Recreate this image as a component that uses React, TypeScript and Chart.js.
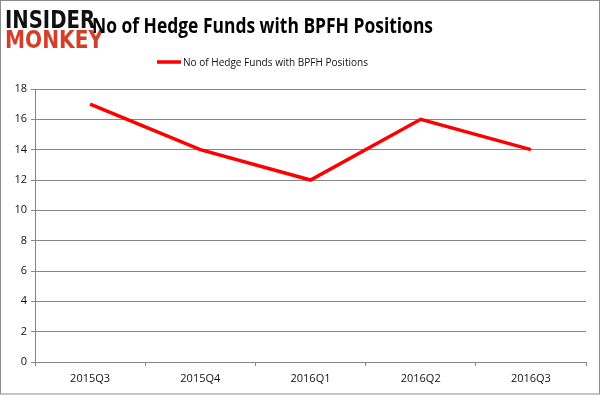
import React, { useEffect, useRef } from "react";
import { Chart, registerables } from "chart.js";

Chart.register(...registerables);

const categories = ["2015Q3", "2015Q4", "2016Q1", "2016Q2", "2016Q3"];
const hedgeFunds = [17, 14, 12, 16, 14];
const seriesName = "No of Hedge Funds with BPFH Positions";
const chartTitle = "No of Hedge Funds with BPFH Positions";
const logoTop = "INSIDER";
const logoBottom = "MONKEY";
const yMin = 0;
const yMax = 18;
const yStep = 2;

function fitText(ctx: CanvasRenderingContext2D, text: string, x: number, y: number, width: number, font: string, color: string) {
  ctx.save();
  ctx.font = font;
  ctx.fillStyle = color;
  ctx.textBaseline = "alphabetic";
  ctx.textAlign = "left";
  const w = ctx.measureText(text).width;
  const s = width / w;
  ctx.translate(x, y);
  ctx.scale(s, 1);
  ctx.fillText(text, 0, 0);
  ctx.restore();
}

const decorPlugin = {
  id: "decor",
  beforeDraw(chart: any) {
    const ctx = chart.ctx as CanvasRenderingContext2D;
    ctx.save();
    ctx.fillStyle = "#ffffff";
    ctx.fillRect(0, 0, chart.width, chart.height);
    ctx.restore();
  },
  afterDraw(chart: any) {
    const ctx = chart.ctx as CanvasRenderingContext2D;
    // border
    ctx.save();
    ctx.strokeStyle = "#8c8c8c";
    ctx.lineWidth = 1;
    ctx.strokeRect(0.5, 0.5, chart.width - 2, chart.height - 1.5);
    ctx.restore();
    // logo
    fitText(ctx, logoTop, 5, 28, 90, "bold 25px 'DejaVu Sans Condensed', 'DejaVu Sans'", "#111111");
    fitText(ctx, logoBottom, 5, 48, 98, "bold 25px 'DejaVu Sans Condensed', 'DejaVu Sans'", "#d2402b");
    // title
    fitText(ctx, chartTitle, 92, 33, 341, "bold 22px 'Open Sans'", "#000000");
    // legend
    ctx.save();
    ctx.strokeStyle = "#ff0000";
    ctx.lineWidth = 3.5;
    ctx.beginPath();
    ctx.moveTo(157, 62);
    ctx.lineTo(181, 62);
    ctx.stroke();
    ctx.restore();
    fitText(ctx, seriesName, 183, 66, 185, "11px 'Open Sans'", "#111111");
  },
};

export default function App() {
  const ref = useRef<HTMLCanvasElement | null>(null);
  useEffect(() => {
    if (!ref.current) return;
    const chart = new Chart(ref.current, {
      type: "line",
      data: {
        labels: categories,
        datasets: [
          {
            label: seriesName,
            data: hedgeFunds,
            borderColor: "#ff0000",
            backgroundColor: "#ff0000",
            borderWidth: 3.5,
            pointRadius: 0,
            tension: 0,
            fill: false,
          },
        ],
      },
      options: {
        responsive: false,
        animation: false,
        layout: { padding: { top: 89, right: 15, left: 0, bottom: 0 } },
        plugins: {
          legend: { display: false },
          title: { display: false },
          tooltip: { enabled: false },
        },
        scales: {
          x: {
            offset: true,
            grid: {
              offset: true,
              drawOnChartArea: false,
              drawTicks: true,
              tickLength: 4,
              color: "#868686",
            },
            border: { display: true, color: "#868686" },
            ticks: {
              color: "#111111",
              font: { family: "'Open Sans'", size: 11 },
              padding: 6,
              maxRotation: 0,
            },
            afterFit(scale: any) {
              scale.height = 33;
            },
          },
          y: {
            min: yMin,
            max: yMax,
            grid: {
              color: "#868686",
              drawTicks: true,
              tickLength: 4,
            },
            border: { display: true, color: "#868686" },
            ticks: {
              stepSize: yStep,
              color: "#111111",
              font: { family: "'Open Sans'", size: 11 },
              padding: 4,
            },
            afterFit(scale: any) {
              scale.width = 35;
            },
          },
        },
      },
      plugins: [decorPlugin],
    });
    return () => chart.destroy();
  }, []);
  return (
    <div style={{ position: "fixed", left: 0, top: 0, width: 601, height: 395 }}>
      <canvas ref={ref} width={601} height={395} style={{ display: "block" }} />
    </div>
  );
}
